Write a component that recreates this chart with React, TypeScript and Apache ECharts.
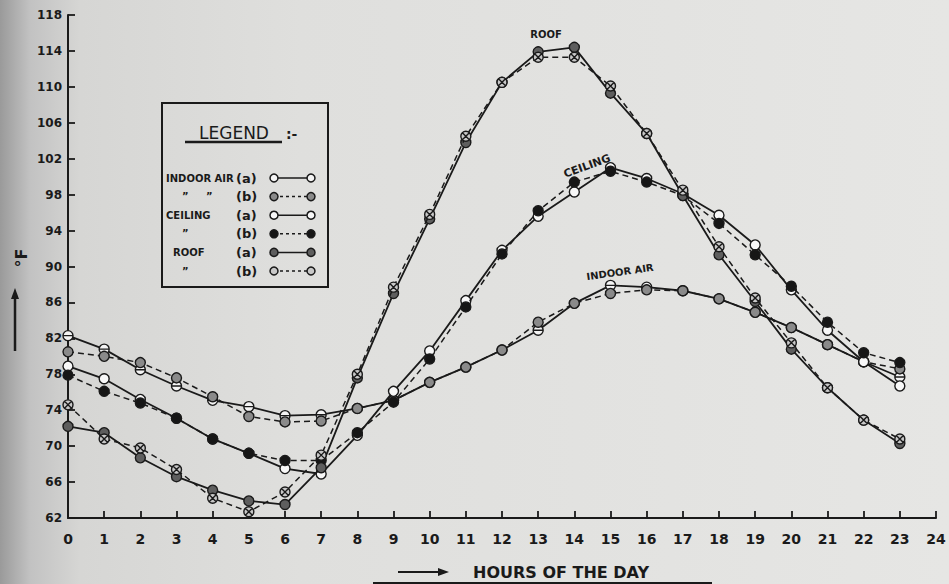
import React, { useEffect, useRef } from "react";
import * as echarts from "echarts";

// Hours of the day (x) and axis ticks
const hours = [0, 1, 2, 3, 4, 5, 6, 7, 8, 9, 10, 11, 12, 13, 14, 15, 16, 17, 18, 19, 20, 21, 22, 23];
const xTickValues = [0, 1, 2, 3, 4, 5, 6, 7, 8, 9, 10, 11, 12, 13, 14, 15, 16, 17, 18, 19, 20, 21, 22, 23, 24];
const yTickValues = [62, 66, 70, 74, 78, 82, 86, 90, 94, 98, 102, 106, 110, 114, 118];

// Temperatures, °F (read against the vertical scale)
const indoorA = [82.3, 80.8, 78.5, 76.7, 75.1, 74.4, 73.4, 73.5, 74.2, 75.1, 77.1, 78.8, 80.7, 82.9, 85.9, 87.9, 87.7, 87.3, 86.4, 84.9, 83.2, 81.3, 79.4, 77.7];
const indoorB = [80.5, 80.0, 79.3, 77.6, 75.5, 73.3, 72.7, 72.8, 74.2, 75.1, 77.1, 78.8, 80.7, 83.8, 85.9, 87.0, 87.4, 87.3, 86.4, 84.9, 83.2, 81.3, 79.4, 78.6];
const ceilingA = [78.9, 77.5, 75.2, 73.1, 70.8, 69.2, 67.5, 66.9, 71.2, 76.1, 80.6, 86.2, 91.8, 95.6, 98.3, 101.0, 99.8, 98.1, 95.7, 92.4, 87.4, 82.9, 79.4, 76.7];
const ceilingB = [77.9, 76.1, 74.8, 73.1, 70.8, 69.2, 68.4, 68.4, 71.5, 74.9, 79.7, 85.5, 91.4, 96.2, 99.4, 100.6, 99.4, 97.9, 94.8, 91.3, 87.8, 83.8, 80.4, 79.3];
const roofA = [72.2, 71.5, 68.7, 66.6, 65.1, 63.9, 63.5, 67.6, 77.6, 87.0, 95.3, 103.8, 110.5, 113.9, 114.4, 109.3, 104.8, 97.9, 91.3, 86.1, 80.8, 76.5, 72.9, 70.3];
const roofB = [74.6, 70.8, 69.8, 67.4, 64.2, 62.7, 64.9, 69.0, 78.0, 87.7, 95.8, 104.5, 110.5, 113.3, 113.3, 110.1, 104.8, 98.5, 92.2, 86.5, 81.5, 76.5, 72.9, 70.8];

const legendLabels = ["INDOOR AIR", "”     ”", "CEILING", "”", "ROOF", "”"];
const legendTags = ["(a)", "(b)", "(a)", "(b)", "(a)", "(b)"];

const INK = "#1a1a1a";
const symBar = "path://M10,0A10,10,0,1,1,10,20A10,10,0,1,1,10,0ZM0,10L20,10";
const symX = "path://M10,0A10,10,0,1,1,10,20A10,10,0,1,1,10,0ZM3,3L17,17M17,3L3,17";

type Sty = { name: string; values: number[]; dashed: boolean; symbol: string; fill: string };
const seriesDefs: Sty[] = [
  { name: "Indoor air (a)", values: indoorA, dashed: false, symbol: symBar, fill: "#f4f4f4" },
  { name: "Indoor air (b)", values: indoorB, dashed: true, symbol: "circle", fill: "#8a8a8a" },
  { name: "Ceiling (a)", values: ceilingA, dashed: false, symbol: "circle", fill: "#f8f8f8" },
  { name: "Ceiling (b)", values: ceilingB, dashed: true, symbol: "circle", fill: "#161616" },
  { name: "Roof (a)", values: roofA, dashed: false, symbol: "circle", fill: "#5e5e5e" },
  { name: "Roof (b)", values: roofB, dashed: true, symbol: symX, fill: "#c8c8c8" },
];

function buildGraphic() {
  const g: any[] = [];
  // legend box
  g.push({ type: "rect", shape: { x: 162, y: 103, width: 166, height: 184 }, style: { fill: "none", stroke: INK, lineWidth: 2 }, z: 50 });
  g.push({ type: "text", x: 199, y: 133, style: { text: "LEGEND", font: "500 17px 'DejaVu Sans'", fill: INK, textVerticalAlign: "middle" }, z: 51 });
  g.push({ type: "text", x: 286, y: 134, style: { text: ":-", font: "bold 14px 'DejaVu Sans'", fill: INK, textVerticalAlign: "middle" }, z: 51 });
  g.push({ type: "line", shape: { x1: 185, y1: 142, x2: 282, y2: 142 }, style: { stroke: INK, lineWidth: 2.5 }, z: 51 });
  legendLabels.forEach((lab, i) => {
    const y = 178 + i * 18.6;
    const lx = i === 4 ? 173 : i % 2 === 1 ? 182 : 166;
    g.push({ type: "text", x: lx, y, style: { text: lab, font: "bold 10px 'DejaVu Sans'", fill: INK, textVerticalAlign: "middle" }, z: 51 });
    g.push({ type: "text", x: 236, y, style: { text: legendTags[i], font: "bold 13px 'DejaVu Sans'", fill: INK, textVerticalAlign: "middle" }, z: 51 });
    const d = seriesDefs[i];
    g.push({ type: "line", shape: { x1: 274, y1: y, x2: 311, y2: y }, style: { stroke: INK, lineWidth: 1.5, lineDash: d.dashed ? [3, 3] : null }, z: 51 });
    [274, 311].forEach((cx) => {
      g.push({ type: "circle", shape: { cx, cy: y, r: 4 }, style: { fill: d.fill, stroke: INK, lineWidth: 1.5 }, z: 52 });
    });
  });
  // curve annotations
  g.push({ type: "text", x: 546, y: 34, style: { text: "ROOF", font: "bold 10px 'DejaVu Sans'", fill: INK, textAlign: "center", textVerticalAlign: "middle" }, z: 51 });
  g.push({ type: "text", x: 587, y: 166, rotation: (20 * Math.PI) / 180, style: { text: "CEILING", font: "bold 11px 'DejaVu Sans'", fill: INK, textAlign: "center", textVerticalAlign: "middle" }, z: 51 });
  g.push({ type: "text", x: 620, y: 272, rotation: (8 * Math.PI) / 180, style: { text: "INDOOR AIR", font: "bold 10px 'DejaVu Sans'", fill: INK, textAlign: "center", textVerticalAlign: "middle" }, z: 51 });
  // y axis name and arrow
  g.push({ type: "text", x: 21, y: 258, rotation: Math.PI / 2, style: { text: "°F", font: "bold 16px 'DejaVu Sans'", fill: INK, textAlign: "center", textVerticalAlign: "middle" }, z: 51 });
  g.push({ type: "line", shape: { x1: 15, y1: 351, x2: 15, y2: 296 }, style: { stroke: INK, lineWidth: 2.5 }, z: 51 });
  g.push({ type: "polygon", shape: { points: [[15, 288], [11, 299], [19, 299]] }, style: { fill: INK }, z: 51 });
  // x axis name, arrow and underline
  g.push({ type: "line", shape: { x1: 398, y1: 572, x2: 440, y2: 572 }, style: { stroke: INK, lineWidth: 2 }, z: 51 });
  g.push({ type: "polygon", shape: { points: [[449, 572], [438, 568], [438, 576]] }, style: { fill: INK }, z: 51 });
  g.push({ type: "text", x: 473, y: 572, style: { text: "HOURS OF THE DAY", font: "bold 16px 'DejaVu Sans'", fill: INK, textVerticalAlign: "middle" }, z: 51 });
  g.push({ type: "line", shape: { x1: 373, y1: 583, x2: 712, y2: 583 }, style: { stroke: INK, lineWidth: 2 }, z: 51 });
  return g;
}

export default function App() {
  const ref = useRef<HTMLDivElement>(null);
  useEffect(() => {
    if (!ref.current) return;
    const chart = echarts.init(ref.current, null, { renderer: "svg" });
    const series = seriesDefs.map((d, k) => ({
      type: "line",
      name: d.name,
      data: hours.map((h, i) => [h, d.values[i]]),
      symbol: d.symbol,
      symbolSize: 10,
      showSymbol: true,
      z: 3 + k,
      lineStyle: { color: INK, width: d.dashed ? 1.5 : 1.8, type: d.dashed ? [6, 4] : "solid" },
      itemStyle: { color: d.fill, borderColor: INK, borderWidth: 1.4 },
      emphasis: { disabled: true },
    }));
    chart.setOption({
      animation: false,
      backgroundColor: "transparent",
      grid: { left: 68, right: 13, top: 15, bottom: 66, containLabel: false, outerBoundsMode: "none" },
      xAxis: {
        type: "value",
        min: 0,
        max: 24,
        interval: 1,
        axisLine: { show: true, onZero: false, lineStyle: { color: INK, width: 2 } },
        axisTick: { show: true, inside: true, length: 7, customValues: xTickValues, lineStyle: { color: INK, width: 1.8 } },
        axisLabel: { customValues: xTickValues, color: INK, fontSize: 14, fontWeight: "bold", fontFamily: "DejaVu Sans", margin: 14 },
        splitLine: { show: false },
      },
      yAxis: {
        type: "value",
        min: 62,
        max: 118,
        axisLine: { show: true, onZero: false, lineStyle: { color: INK, width: 2 } },
        axisTick: { show: true, inside: true, length: 7, customValues: yTickValues, lineStyle: { color: INK, width: 1.8 } },
        axisLabel: { customValues: yTickValues, color: INK, fontSize: 12, fontWeight: "bold", fontFamily: "DejaVu Sans", margin: 6 },
        splitLine: { show: false },
      },
      series,
      graphic: buildGraphic(),
    });
    return () => chart.dispose();
  }, []);
  return (
    <div
      style={{
        position: "absolute",
        left: 0,
        top: 0,
        width: 949,
        height: 584,
        background: "linear-gradient(to right, #9a9a9a 0px, #c2c2c2 30px, #d6d6d4 80px, #dfdfdd 300px, #e6e6e4 949px)",
      }}
    >
      <div ref={ref} style={{ width: 949, height: 584 }} />
    </div>
  );
}
